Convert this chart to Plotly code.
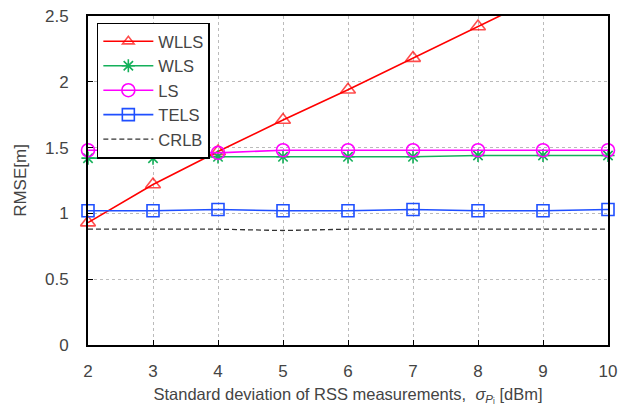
import plotly.graph_objects as go

x_vals = [2, 3, 4, 5, 6, 7, 8, 9, 10]
wlls = [0.93, 1.22, 1.47, 1.71, 1.94, 2.18, 2.42, 2.66, 2.90]
wls = [1.42, 1.42, 1.43, 1.43, 1.43, 1.43, 1.44, 1.44, 1.44]
ls = [1.48, 1.48, 1.46, 1.48, 1.48, 1.48, 1.48, 1.48, 1.48]
tels = [1.02, 1.02, 1.03, 1.02, 1.02, 1.03, 1.02, 1.02, 1.03]
crlb = [0.88, 0.88, 0.88, 0.87, 0.88, 0.88, 0.88, 0.88, 0.88]
y_ticks = [0, 0.5, 1, 1.5, 2, 2.5]
y_tick_labels = ["0", "0.5", "1", "1.5", "2", "2.5"]
x_ticks = [2, 3, 4, 5, 6, 7, 8, 9, 10]

Y_MAX = 2.5
font_family = "Liberation Sans, Arial, Helvetica, sans-serif"

fig = go.Figure()

wlls_sizes = [13 if v <= Y_MAX else 0 for v in wlls]

fig.add_trace(go.Scatter(x=x_vals, y=wlls, name="WLLS", mode="lines+markers",
                         line=dict(color="#ff0000", width=1.6),
                         marker=dict(symbol="triangle-up-open", size=wlls_sizes, color="#ff0000",
                                     line=dict(width=1.6)),
                         cliponaxis=False))
fig.add_trace(go.Scatter(x=x_vals, y=wls, name="WLS", mode="lines+markers",
                         line=dict(color="#14b05a", width=1.6),
                         marker=dict(symbol="asterisk-open", size=11, color="#14b05a",
                                     line=dict(width=1.6, color="#14b05a")),
                         cliponaxis=False))
fig.add_trace(go.Scatter(x=x_vals, y=ls, name="LS", mode="lines+markers",
                         line=dict(color="#ff00ff", width=1.6),
                         marker=dict(symbol="circle-open", size=13, color="#ff00ff",
                                     line=dict(width=1.6)),
                         cliponaxis=False))
fig.add_trace(go.Scatter(x=x_vals, y=tels, name="TELS", mode="lines+markers",
                         line=dict(color="#1f4fff", width=1.6),
                         marker=dict(symbol="square-open", size=12, color="#1f4fff",
                                     line=dict(width=1.6)),
                         cliponaxis=False))
fig.add_trace(go.Scatter(x=x_vals, y=crlb, name="CRLB", mode="lines",
                         line=dict(color="#333333", width=1.3, dash="5px,3px")))

fig.update_layout(
    width=619, height=409,
    margin=dict(l=88, r=11, t=16, b=64, autoexpand=False),
    paper_bgcolor="white", plot_bgcolor="white",
    font=dict(family=font_family, color="#444444"),
    showlegend=True,
    legend=dict(x=0.017, y=0.98, xanchor="left", yanchor="top",
                bgcolor="white", bordercolor="black", borderwidth=1.5,
                font=dict(size=16.5, color="#444444"),
                itemwidth=50, tracegroupgap=2),
    xaxis=dict(range=[2, 10], tickvals=x_ticks, ticks="inside", ticklen=5,
               tickcolor="black", showline=True, linecolor="black", linewidth=2,
               mirror=True, showgrid=True, gridcolor="#bbbbbb", griddash="dot",
               gridwidth=1, zeroline=False, automargin=False,
               ticklabeloverflow="allow", ticklabelstandoff=10,
               tickfont=dict(size=17, color="#444444"),
               title=dict(text="Standard deviation of RSS measurements,  <i>σ</i><sub><i>P</i>ᵢ</sub> [dBm]",
                          font=dict(size=16.5, color="#444444"), standoff=8)),
    yaxis=dict(range=[0, Y_MAX], tickvals=y_ticks, ticktext=y_tick_labels,
               ticks="inside", ticklen=5, tickcolor="black",
               showline=True, linecolor="black", linewidth=2, mirror=True,
               showgrid=True, gridcolor="#bbbbbb", griddash="dot", gridwidth=1,
               zeroline=False, automargin=False, ticklabelstandoff=14,
               tickfont=dict(size=17, color="#444444"),
               title=dict(text="RMSE[m]", font=dict(size=17, color="#444444"), standoff=14)),
)

fig.write_html("out.html", config={"displayModeBar": False},
               post_script="document.body.style.margin='0';")
